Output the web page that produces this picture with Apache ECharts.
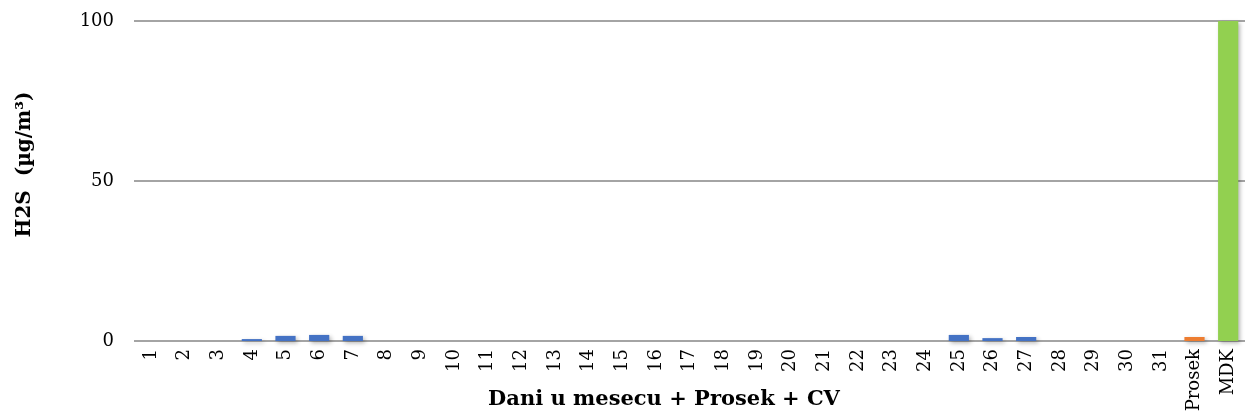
<!DOCTYPE html>
<html>
<head>
<meta charset="utf-8">
<script src="https://cdn.jsdelivr.net/npm/echarts@6/dist/echarts.min.js"></script>
<style>html,body{margin:0;padding:0;background:#fff;}#c{width:1247px;height:416px;}</style>
</head>
<body>
<div id="c"></div>
<script>
const categories = ['1','2','3','4','5','6','7','8','9','10','11','12','13','14','15','16','17','18','19','20','21','22','23','24','25','26','27','28','29','30','31','Prosek','MDK'];
const dailyValues = [0,0,0,0.6,1.6,1.9,1.6,0,0,0,0,0,0,0,0,0,0,0,0,0,0,0,0,0,1.9,0.9,1.25,0,0,0,0];
const prosekValue = 1.25;
const mdkValue = 100;
const yTicks = [0, 50, 100];

const colors = {daily:'#4472C4', prosek:'#ED7D31', mdk:'#92D050'};
const data = dailyValues.map(v => ({value: v === 0 ? null : v, itemStyle:{color:colors.daily}}));
data.push({value: prosekValue, itemStyle:{color:colors.prosek}});
data.push({value: mdkValue, itemStyle:{color:colors.mdk}});

const serif = '"DejaVu Serif", "Liberation Serif", serif';
const chart = echarts.init(document.getElementById('c'));
chart.setOption({
  animation: false,
  grid: {left: 134, right: 2, top: 21, bottom: 75, containLabel: false, outerBoundsMode: 'none'},
  xAxis: {
    type: 'category',
    data: categories,
    axisLine: {show: false},
    axisTick: {show: false},
    axisLabel: {rotate: 90, fontFamily: serif, fontSize: 18, color: '#000', margin: 8, interval: 0},
    name: 'Dani u mesecu + Prosek + CV',
    nameLocation: 'middle',
    nameGap: 48,
    nameMoveOverlap: false,
    nameTextStyle: {fontFamily: serif, fontSize: 21, fontWeight: 'bold', color: '#000', padding: [0, 51, 0, 0]}
  },
  yAxis: {
    type: 'value',
    min: yTicks[0], max: yTicks[yTicks.length-1], interval: 50,
    axisLine: {show: false},
    axisTick: {show: false},
    splitLine: {lineStyle: {color: '#868686', width: 1.5}},
    axisLabel: {fontFamily: serif, fontSize: 18, color: '#000', margin: 20},
    name: 'H2S  (µg/m³)',
    nameLocation: 'middle',
    nameGap: 99,
    nameMoveOverlap: false,
    nameTextStyle: {fontFamily: serif, fontSize: 20, fontWeight: 'bold', color: '#000', padding: [0, 0, 0, 33]}
  },
  series: [{
    type: 'bar',
    data: data,
    barWidth: '60%',
    itemStyle: {shadowColor: 'rgba(0,0,0,0.3)', shadowBlur: 4, shadowOffsetX: 2, shadowOffsetY: 2}
  }]
});
</script>
</body>
</html>
